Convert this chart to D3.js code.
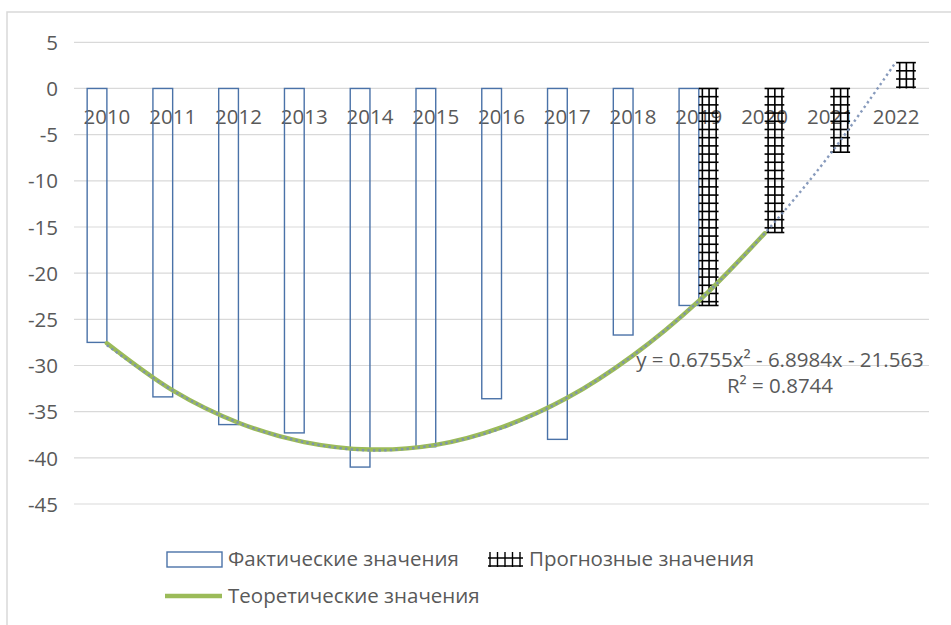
<!DOCTYPE html>
<html><head><meta charset="utf-8">
<script src="https://cdn.jsdelivr.net/npm/d3@7"></script>
<style>
html,body{margin:0;padding:0;background:#fff;}
svg{display:block;font-family:"Open Sans",sans-serif;}
</style></head>
<body>
<svg id="chart" width="951" height="625"></svg>
<script>
const years = ["2010","2011","2012","2013","2014","2015","2016","2017","2018","2019","2020","2021","2022"];
const factual = [-27.5,-33.4,-36.4,-37.3,-41.0,-38.8,-33.6,-38.0,-26.7,-23.5,null,null,null];
const forecast = [null,null,null,null,null,null,null,null,null,-23.5,-15.6,-6.9,2.8];
const theoretical = [-27.6,-32.7,-36.2,-38.3,-39.1,-38.6,-36.7,-33.5,-28.9,-23.0,-15.7];
const trend = [-27.8,-32.7,-36.2,-38.3,-39.2,-38.6,-36.8,-33.5,-28.9,-23.0,-15.7,-7.1,2.9];
const yTicks = [5,0,-5,-10,-15,-20,-25,-30,-35,-40,-45];
const equationText = "y = 0.6755x² - 6.8984x - 21.563";
const r2Text = "R² = 0.8744";
const legendLabels = ["Фактические значения","Прогнозные значения","Теоретические значения"];

const svg = d3.select("#chart");
const textColor = "#595959";

// chart border
svg.append("rect").attr("x",7).attr("y",12).attr("width",960).attr("height",640)
  .attr("fill","none").attr("stroke","#d9d9d9").attr("stroke-width",1.5);

const x = d3.scaleBand().domain(years).range([74,929]).padding(0);
const y = d3.scaleLinear().domain([-45,5]).range([504,42.3]);
const bw = x.bandwidth();
const barW = bw*0.3;
const cx = d => x(d) + bw/2;

// gridlines
svg.append("g").selectAll("line").data(yTicks).join("line")
  .attr("x1",74).attr("x2",929)
  .attr("y1",d=>y(d)).attr("y2",d=>y(d))
  .attr("stroke","#d9d9d9").attr("stroke-width",1.2);

// y axis labels
const yAxis = d3.axisLeft(y).tickValues(yTicks).tickSize(0).tickPadding(0).tickFormat(d3.format("d"));
const gy = svg.append("g").attr("transform","translate(58,0)").call(yAxis);
gy.select(".domain").remove();
gy.selectAll("text").attr("font-size",20.5).attr("fill",textColor)
  .attr("font-family","Open Sans").attr("dy","0.35em");
gy.selectAll("text").each(function(){ const t=d3.select(this); t.text(t.text().replace("−","-")); });

// x axis labels (at zero line)
const xAxis = d3.axisBottom(x).tickSize(0).tickPadding(0);
const gx = svg.append("g").attr("transform",`translate(0,${y(0)})`).call(xAxis);
gx.select(".domain").remove();
gx.selectAll("text").attr("font-size",20.5).attr("fill",textColor)
  .attr("font-family","Open Sans").attr("dy","0").attr("y",36);

// factual bars (outline only)
svg.append("g").selectAll("rect").data(years.map((yr,i)=>({yr,v:factual[i]})).filter(d=>d.v!==null))
  .join("rect")
  .attr("x",d=>cx(d.yr)-barW)
  .attr("y",d=>Math.min(y(0),y(d.v)))
  .attr("width",barW)
  .attr("height",d=>Math.abs(y(d.v)-y(0)))
  .attr("fill","none").attr("stroke","#4a72a8").attr("stroke-width",1.4);

// forecast bars (hatched)
const fg = svg.append("g");
const fdata = years.map((yr,i)=>({yr,v:forecast[i]})).filter(d=>d.v!==null);
fdata.forEach(d=>{
  const x0 = cx(d.yr), x1 = x0+barW;
  const y0 = y(0), y1 = y(d.v);
  const top = Math.min(y0,y1), bot = Math.max(y0,y1);
  const step = 8.2;
  const hs = d3.range(top, bot+0.1, step);
  if (bot - hs[hs.length-1] > 2) hs.push(bot);
  fg.append("g").selectAll("line.h").data(hs).join("line")
    .attr("x1",x0).attr("x2",x1).attr("y1",v=>v).attr("y2",v=>v)
    .attr("stroke","#000").attr("stroke-width",1.6);
  const vs = [x0+barW*0.18, x0+barW*0.52, x0+barW*0.88];
  fg.append("g").selectAll("line.v").data(vs).join("line")
    .attr("x1",v=>v).attr("x2",v=>v).attr("y1",top).attr("y2",bot)
    .attr("stroke","#000").attr("stroke-width",1.6);
});

// theoretical line
const line = d3.line().x((d,i)=>cx(years[i])).y(d=>y(d)).curve(d3.curveCatmullRom);
svg.append("path").datum(theoretical).attr("d",line)
  .attr("fill","none").attr("stroke","#9bbb59").attr("stroke-width",4.5).attr("stroke-linecap","round");

// polynomial trendline (dotted)
svg.append("path").datum(trend).attr("d",line)
  .attr("fill","none").attr("stroke","#7a8fb5").attr("stroke-width",2.4)
  .attr("stroke-dasharray","2.4,3.2").attr("opacity",0.9);

// equation
const eq = svg.append("g").attr("font-size",20.5).attr("fill",textColor).attr("text-anchor","middle");
eq.append("text").attr("x",780).attr("y",367).text(equationText);
eq.append("text").attr("x",780).attr("y",393).text(r2Text);

// legend
const lg = svg.append("g").attr("font-size",20.5).attr("fill",textColor);
lg.append("rect").attr("x",167).attr("y",552).attr("width",55).attr("height",15)
  .attr("fill","#fff").attr("stroke","#4a72a8").attr("stroke-width",1.4);
lg.append("text").attr("x",228).attr("y",566).text(legendLabels[0]);

const ix0 = 488, ix1 = 523;
lg.append("line").attr("x1",ix0).attr("x2",ix1).attr("y1",566).attr("y2",566).attr("stroke","#000").attr("stroke-width",1.6);
lg.append("line").attr("x1",ix0).attr("x2",ix1).attr("y1",558).attr("y2",558).attr("stroke","#000").attr("stroke-width",1.4);
d3.range(ix0+2, ix1, 7.5).forEach(vx=>{
  lg.append("line").attr("x1",vx).attr("x2",vx).attr("y1",552).attr("y2",567).attr("stroke","#000").attr("stroke-width",1.4);
});
lg.append("text").attr("x",529).attr("y",566).text(legendLabels[1]);

lg.append("line").attr("x1",165).attr("x2",222).attr("y1",596).attr("y2",596)
  .attr("stroke","#9bbb59").attr("stroke-width",4.5);
lg.append("text").attr("x",228).attr("y",603).text(legendLabels[2]);
</script>
</body></html>
